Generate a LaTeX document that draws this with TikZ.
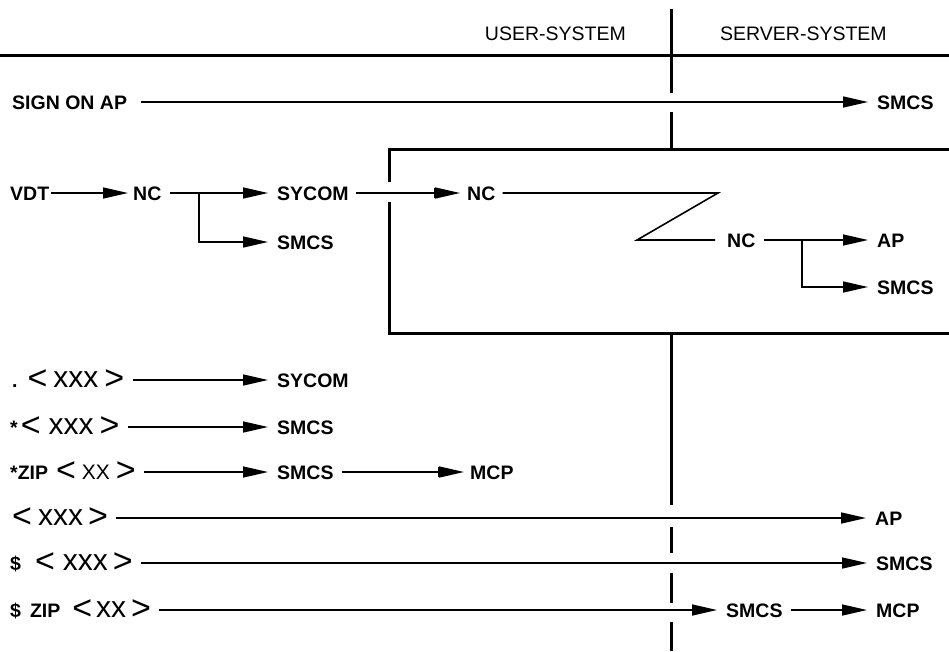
\documentclass[tikz,border=0pt]{standalone}
\usepackage{fontspec}
\setmainfont{Liberation Sans}
\usetikzlibrary{arrows.meta,positioning,calc}
\newcommand\xs[1]{{\fontsize{30}{30}\selectfont\mdseries #1}}
\newcommand\lchev{\raisebox{-2pt}{\fontsize{34}{34}\selectfont\mdseries<}}
\newcommand\rchev{\raisebox{-2pt}{\fontsize{34}{34}\selectfont\mdseries>}}
\tikzset{
  lbl/.style={inner sep=0pt, anchor=west, text height=14pt, text depth=0pt,
    font=\fontsize{19.5}{19.5}\selectfont\bfseries},
  hdr/.style={lbl, font=\fontsize{19.5}{19.5}\selectfont},
  arr/.style={-{Triangle[length=25pt,width=11pt]}, line width=1.5pt,
    shorten <=8pt, shorten >=9pt},
  barr/.style={arr, -{Bar[width=10pt,line width=1.5pt]Triangle[length=25pt,width=11pt]}},
  wire/.style={line width=1.6pt},
  heavy/.style={line width=3pt}
}
\begin{document}
\begin{tikzpicture}[x=1pt,y=-1pt]
  \useasboundingbox (0,0) rectangle (949,651);
  % header and the user/server split
  \node[hdr, anchor=east] (user) at (626,33) {USER-SYSTEM};
  \node[hdr] (server) at (720,33) {SERVER-SYSTEM};
  \draw[heavy] (0,55) -- (949,55);
  \foreach \a/\b in {9/93,112/149,333/505,527/553,573/603,622/651}
    \draw[heavy] (671,\a) -- (671,\b);

  % sign on
  \node[lbl] (sign) at (12,102) {SIGN ON AP};
  \node[lbl] (smcs0) at (877,102) {SMCS};
  \draw[arr, shorten <=14pt] (sign) -- (smcs0);

  % terminal path through the network
  \node[lbl] (vdt) at (10,193) {VDT};
  \node[lbl] (nc1) at (133,193) {NC};
  \node[lbl] (sycom1) at (277,193) {SYCOM};
  \node[lbl] (smcs1) at (277,242) {SMCS};
  \coordinate (fork1) at (199,193);
  \draw[arr, shorten <=2pt, shorten >=5pt] (vdt) -- (nc1);
  \draw[arr] (nc1) -- (sycom1);
  \draw[arr, shorten <=0pt] (fork1) |- (smcs1);

  % server box, open at the left for the link
  \draw[heavy] (949,149) -- (389,149) -- (389,182);
  \draw[heavy] (389,202) -- (389,333) -- (949,333);
  \node[lbl] (nc2) at (467,193) {NC};
  \draw[barr, shorten <=7pt, shorten >=7pt] (sycom1) -- (nc2);
  \coordinate (zt) at (718,193);
  \coordinate (zb) at (637,240);
  \node[lbl] (nc3) at (727,240) {NC};
  \draw[wire, shorten <=7pt, shorten >=12pt] (nc2) -- (zt) -- (zb) -- (nc3);
  \node[lbl] (ap1) at (877,240) {AP};
  \node[lbl] (smcs2) at (877,287) {SMCS};
  \coordinate (fork2) at (802,240);
  \draw[arr] (nc3) -- (ap1);
  \draw[arr, shorten <=0pt] (fork2) |- (smcs2);

  % command prefixes
  \node[lbl] (dot) at (12,380) {.\kern10pt\lchev\kern6pt\xs{xxx}\kern6pt\rchev};
  \node[lbl] (sycom3) at (277,380) {SYCOM};
  \draw[arr] (dot) -- (sycom3);

  \node[lbl] (star) at (10,427) {*\kern3pt\lchev\kern8pt\xs{xxx}\kern6pt\rchev};
  \node[lbl] (smcs3) at (277,427) {SMCS};
  \draw[arr] (star) -- (smcs3);

  \node[lbl] (zip) at (10,472) {*ZIP\kern8pt\lchev\kern6pt{\fontsize{21}{21}\selectfont\mdseries XX}\kern6pt\rchev};
  \node[lbl] (smcs4) at (277,472) {SMCS};
  \node[lbl] (mcp1) at (470,472) {MCP};
  \draw[arr] (zip) -- (smcs4);
  \draw[barr, shorten >=6pt] (smcs4) -- (mcp1);

  \node[lbl] (plain) at (12,518) {\lchev\kern6pt\xs{xxx}\kern5pt\rchev};
  \node[lbl] (ap2) at (875,518) {AP};
  \draw[arr] (plain) -- (ap2);

  \node[lbl] (dollar) at (10,563) {\$\kern14pt\lchev\kern8pt\xs{xxx}\kern5pt\rchev};
  \node[lbl] (smcs5) at (876,563) {SMCS};
  \draw[arr] (dollar) -- (smcs5);

  \node[lbl] (dzip) at (10,610) {\$\kern9pt ZIP\kern12pt\lchev\kern4pt\xs{xx}\kern5pt\rchev};
  \node[lbl] (smcs6) at (726,610) {SMCS};
  \node[lbl] (mcp2) at (876,610) {MCP};
  \draw[arr] (dzip) -- (smcs6);
  \draw[arr] (smcs6) -- (mcp2);
\end{tikzpicture}
\end{document}
